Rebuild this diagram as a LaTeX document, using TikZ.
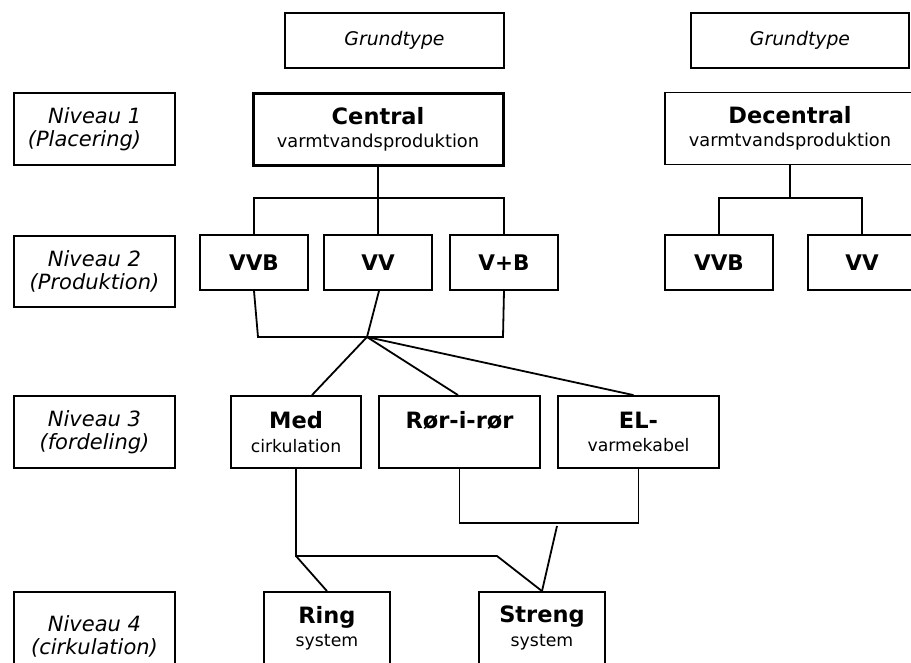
\documentclass[tikz,border=0pt]{standalone}
\usepackage{fontspec}
\setmainfont{DejaVu Sans}
\usetikzlibrary{calc}
\begin{document}
\begin{tikzpicture}[x=1pt,y=-1pt,
  box/.style={draw, line width=1.8pt, rectangle, inner sep=0pt, align=center,
    minimum width=108pt, minimum height=55pt},
  lvl/.style={box, minimum width=161pt, minimum height=72pt,
    font=\fontsize{21}{23}\selectfont\itshape},
  grund/.style={box, minimum width=219pt, minimum height=55pt,
    font=\fontsize{18.8}{22}\selectfont\itshape},
  big/.style={box, minimum width=250pt, minimum height=72pt,
    font=\fontsize{17.8}{23}\selectfont},
  prod/.style={box, font=\fontsize{21.5}{24}\selectfont\bfseries},
  dist/.style={box, minimum height=72pt, font=\fontsize{17.3}{23.5}\selectfont},
  conn/.style={line width=1.8pt}]
\useasboundingbox (0,0) rectangle (911,662);
\clip (0,0) rectangle (911,662);

% Grundtype
\node[grund] (g1) at (394.5,40.5) {Grundtype};
\node[grund, minimum width=218pt] (g2) at (800,40.5) {Grundtype};

% Level labels
\node[lvl, align=right] (n1) at (94.5,129)
  {Niveau 1\hspace*{20pt}\\(Placering)\hspace*{20pt}};
\node[lvl, minimum height=71pt] (n2) at (94.5,271.5) {Niveau 2\\(Produktion)};
\node[lvl] (n3) at (94.5,432) {Niveau 3\\(fordeling)};
\node[lvl, minimum height=88pt] (n4) at (94.5,636) {Niveau 4\\(cirkulation)};

% Level 1
\node[big, line width=3pt] (central) at (378,129)
  {{\fontsize{22.5}{23}\selectfont\bfseries Central}\\varmtvandsproduktion};
\node[big] (decentral) at (790,128.5)
  {{\fontsize{22.5}{23}\selectfont\bfseries Decentral}\\varmtvandsproduktion};

% Level 2
\node[prod] (vvb1) at (254,262.5) {VVB};
\node[prod] (vv1) at (378,262.5) {VV};
\node[prod] (vpb) at (504,262.5) {V+B};
\node[prod] (vvb2) at (719,262.5) {VVB};
\node[prod] (vv2) at (862,262.5) {VV};

% Level 3
\node[dist, minimum width=130pt] (med) at (296,432)
  {{\fontsize{22.5}{23.5}\selectfont\bfseries Med}\\cirkulation};
\node[dist, minimum width=161pt] (ror) at (459.5,432)
  {{\fontsize{22.5}{23.5}\selectfont\bfseries Rør-i-rør}\\\mbox{}};
\node[dist, minimum width=161pt] (el) at (638.5,432)
  {{\fontsize{22.5}{23.5}\selectfont\bfseries EL-}\\varmekabel};

% Level 4
\node[dist, minimum width=126pt] (ring) at (327,628)
  {{\fontsize{22.5}{23}\selectfont\bfseries Ring}\\system};
\node[dist, minimum width=126pt] (streng) at (542,628)
  {{\fontsize{22.5}{23}\selectfont\bfseries Streng}\\system};

% Connectors level 1 -> 2
\draw[conn] (central.south) -- (vv1.north);
\draw[conn] (vvb1.north) -- ++(0,-36) -| (vpb.north);
\coordinate (dbar) at (790,199);
\draw[conn] (decentral.south) -- (dbar);
\draw[conn] (vvb2.north) -- ++(0,-36) -| (vv2.north);

% Connectors level 2 -> 3
\coordinate (J) at (367,337);
\coordinate (jl) at (258,337);
\coordinate (jr) at (503,337);
\draw[conn] (vvb1.south) -- (jl) -- (jr) -- (vpb.south);
\draw[conn] ([xshift=1pt]vv1.south) -- (J);
\draw[conn] (J) -- ([xshift=16pt]med.north);
\draw[conn] (J) -- ([xshift=-1.5pt]ror.north);
\draw[conn] (J) -- ([xshift=-5pt]el.north);

% Connectors level 3 -> 4
\coordinate (m1) at (296,556);
\coordinate (m2) at (497,556);
\draw[conn] (med.south) -- (m1) -- (m2) -- (streng.north);
\draw[conn] (m1) -- (ring.north);
\draw[conn] (ror.south) -- ++(0,54) -| (el.south);
\coordinate (s1) at (557,526);
\draw[conn] (s1) -- (streng.north);
\end{tikzpicture}
\end{document}
